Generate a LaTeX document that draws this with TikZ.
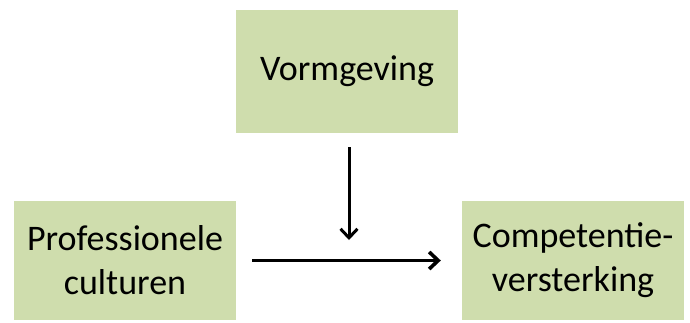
\documentclass[tikz,border=0pt]{standalone}
\usepackage{fontspec}
\setmainfont{Carlito}
\usetikzlibrary{arrows.meta}
\definecolor{boxgreen}{RGB}{207,221,173}
\begin{document}
\begin{tikzpicture}[x=1pt,y=-1pt,
    every node/.style={font=\fontsize{36}{44}\selectfont},
    block/.style={fill=boxgreen,minimum width=222pt,align=center,inner sep=0pt},
    arr/.style={line width=#1,-{Straight Barb[length=9pt,width=17pt,line width=#1]}}]
    \useasboundingbox (0,0) rectangle (690,322);
    \node[block,minimum height=123pt] (vorm) at (347,71.5) {Vormgeving};
    \node[block,minimum height=119pt] (prof) at (125,260.5) {Professionele\\culturen};
    \node[block,minimum height=119pt] (comp) at (573,260.5) {Competentie-\\versterking};
    \coordinate (mid) at (349,240);
    \draw[arr=3pt,shorten <=14pt] (vorm.south -| mid) -- (mid);
    \draw[arr=3.6pt,shorten <=16pt,shorten >=21pt] (prof) -- (comp);
\end{tikzpicture}
\end{document}
